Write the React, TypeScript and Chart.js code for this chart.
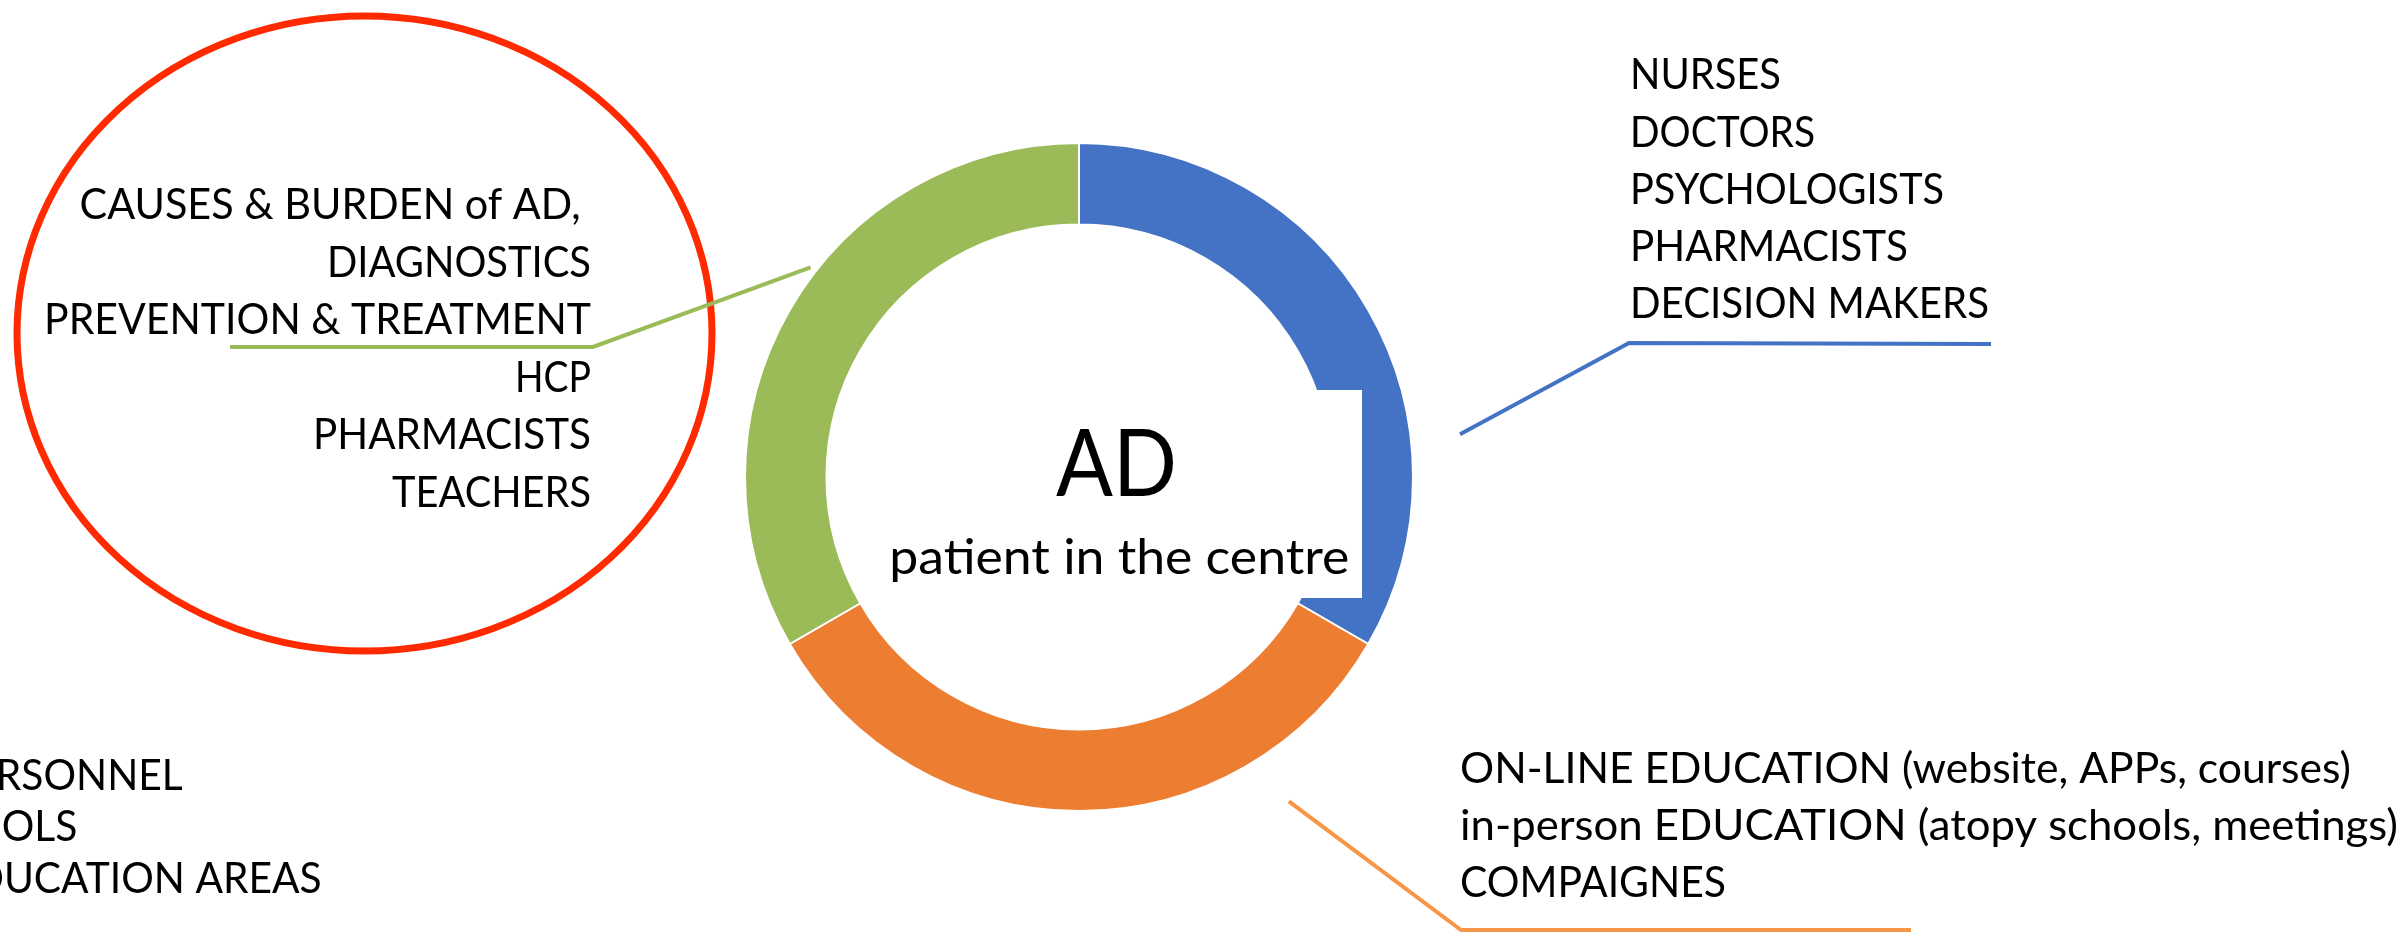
import React, { useEffect, useRef } from "react";
import { Chart, registerables } from "chart.js";

Chart.register(...registerables);

// ---------- data ----------
const segmentLabels = ["Professionals", "Forms of education", "Topics & audiences"];
const segmentValues = [1, 1, 1];
const segmentColors = ["#4472C4", "#ED7D31", "#9BBB59"];

const centerTitle = "AD";
const centerSubtitle = "patient in the centre";

const blueLines = ["NURSES", "DOCTORS", "PSYCHOLOGISTS", "PHARMACISTS", "DECISION MAKERS"];
const orangeLines = [
  "ON-LINE EDUCATION (website, APPs, courses)",
  "in-person EDUCATION (atopy schools, meetings)",
  "COMPAIGNES",
];
const greenLines = [
  "CAUSES & BURDEN of AD,",
  "DIAGNOSTICS",
  "PREVENTION & TREATMENT",
  "HCP",
  "PHARMACISTS",
  "TEACHERS",
];
const cutLines = ["PERSONNEL", "SCHOOLS", "EDUCATION AREAS"];

// ---------- layout (pixels, styles) ----------
const W = 2408;
const H = 932;
const FONT = "Lato, 'Open Sans', sans-serif";
const LABEL_SIZE = 42;
const greenRight = [580.6, 591, 591, 591, 591, 591];
const greenWidths = [501, 264, 547, 76, 278, 199];
const blueWidths = [151, 185, 314, 278, 359];
const orangeWidths = [891, 938, 266];
const cutRight = [182.7, 77.3, 321.7];

function fitText(
  ctx: CanvasRenderingContext2D,
  text: string,
  x: number,
  y: number,
  align: "left" | "right" | "center",
  width?: number
) {
  const m = ctx.measureText(text).width;
  const s = width ? width / m : 1;
  ctx.save();
  ctx.translate(x, y);
  ctx.scale(s, 1);
  ctx.textAlign = align;
  ctx.fillText(text, 0, 0);
  ctx.restore();
}

const calloutPlugin = {
  id: "callouts",
  afterDraw(chart: any) {
    const ctx = chart.ctx as CanvasRenderingContext2D;
    const arc = chart.getDatasetMeta(0).data[0] as any;
    const cx = arc.x;
    const cy = arc.y;
    const R = arc.outerRadius;
    const polar = (deg: number, k: number) => {
      const a = ((deg - 90) * Math.PI) / 180;
      return [cx + Math.cos(a) * R * k, cy + Math.sin(a) * R * k];
    };

    ctx.save();
    // white label box in the centre
    ctx.fillStyle = "#FFFFFF";
    ctx.fillRect(870, 390, 492, 208);

    // centre text
    ctx.fillStyle = "#000000";
    ctx.textBaseline = "alphabetic";
    ctx.font = `94px ${FONT}`;
    fitText(ctx, centerTitle, 1116.4, 496, "center", 121);
    ctx.font = `48px ${FONT}`;
    fitText(ctx, centerSubtitle, 1119.3, 574, "center", 460);

    // red ellipse
    ctx.strokeStyle = "#FF2A00";
    ctx.lineWidth = 7;
    ctx.beginPath();
    ctx.ellipse(364.5, 333.5, 347.5, 317.5, 0, 0, Math.PI * 2);
    ctx.stroke();

    // leader lines
    const leader = (start: number[], pts: number[][], color: string) => {
      ctx.strokeStyle = color;
      ctx.lineWidth = 4;
      ctx.lineJoin = "miter";
      ctx.beginPath();
      ctx.moveTo(start[0], start[1]);
      pts.forEach((p) => ctx.lineTo(p[0], p[1]));
      ctx.stroke();
    };
    leader(polar(308, 1.02), [[593, 347], [230, 347]], "#9BBB59");
    leader(polar(83.6, 1.148), [[1629, 343], [1991, 344]], "#4472C4");
    leader(polar(147.1, 1.157), [[1461, 930], [1911, 930]], "#F79646");

    // label texts
    ctx.fillStyle = "#000000";
    ctx.font = `${LABEL_SIZE}px ${FONT}`;
    greenLines.forEach((t, i) => fitText(ctx, t, greenRight[i], 219.3 + i * 57.5, "right", greenWidths[i]));
    blueLines.forEach((t, i) => fitText(ctx, t, 1630, 89.3 + i * 57.25, "left", blueWidths[i]));
    orangeLines.forEach((t, i) => fitText(ctx, t, 1460, 782.7 + i * 57, "left", orangeWidths[i]));
    cutLines.forEach((t, i) => {
      const m = ctx.measureText(t).width;
      fitText(ctx, t, cutRight[i], 790 + i * 51.3, "right", m * 0.97);
    });
    ctx.restore();
  },
};

export default function App() {
  const ref = useRef<HTMLCanvasElement>(null);
  useEffect(() => {
    document.body.style.margin = "0";
    const canvas = ref.current!;
    const chart = new Chart(canvas, {
      type: "doughnut",
      data: {
        labels: segmentLabels,
        datasets: [
          {
            data: segmentValues,
            backgroundColor: segmentColors,
            borderColor: "#FFFFFF",
            borderWidth: 2,
          },
        ],
      },
      options: {
        responsive: false,
        animation: false,
        devicePixelRatio: 1,
        cutout: "75.6%",
        layout: { padding: { left: 744, right: 994, top: 142, bottom: 120 } },
        plugins: {
          legend: { display: false },
          tooltip: { enabled: false },
          title: { display: false },
        },
        events: [],
      },
      plugins: [calloutPlugin],
    });
    return () => chart.destroy();
  }, []);
  return (
    <div style={{ position: "absolute", left: 0, top: 0, width: W, height: H, background: "#FFFFFF" }}>
      <canvas ref={ref} width={W} height={H} style={{ display: "block", width: W, height: H }} />
    </div>
  );
}
